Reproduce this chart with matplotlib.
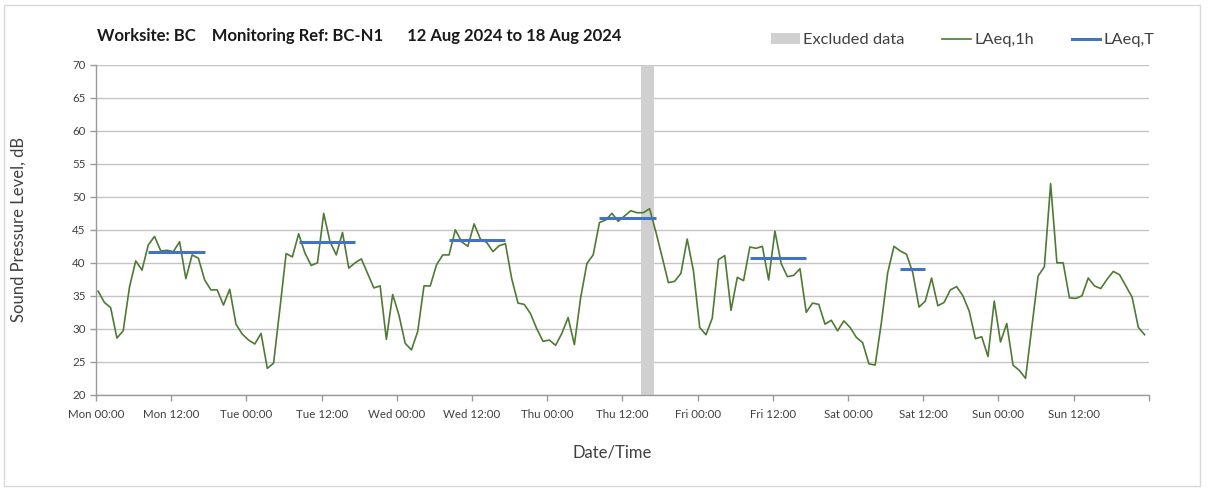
import numpy as np
import pandas as pd
import matplotlib
matplotlib.use('Agg')
import matplotlib.pyplot as plt
import matplotlib.dates as mdates
from matplotlib.patches import Patch, Rectangle
from matplotlib.lines import Line2D

plt.rcParams['font.family'] = ['Lato', 'DejaVu Sans']

# hourly LAeq,1h values, Mon 12 Aug 2024 00:00 -> Sun 18 Aug 2024 23:00
laeq_1h = [
    35.7, 34.0, 33.2, 28.6, 29.7, 36.3, 40.3, 38.9, 42.7, 44.0, 41.8, 41.9,
    41.7, 43.2, 37.6, 41.2, 40.7, 37.4, 35.9, 35.9, 33.6, 36.0, 30.7, 29.2,
    28.3, 27.7, 29.3, 24.0, 24.8, 33.0, 41.4, 40.9, 44.4, 41.5, 39.6, 40.0,
    47.5, 43.2, 41.2, 44.6, 39.2, 40.0, 40.6, 38.4, 36.2, 36.5, 28.4, 35.2,
    32.1, 27.8, 26.8, 29.6, 36.5, 36.5, 39.7, 41.2, 41.2, 45.0, 43.2, 42.5,
    45.9, 43.6, 43.1, 41.7, 42.6, 42.9, 37.6, 33.9, 33.7, 32.3, 30.0, 28.1,
    28.3, 27.5, 29.3, 31.7, 27.6, 34.7, 39.9, 41.2, 46.1, 46.5, 47.5, 46.3,
    47.1, 47.9, 47.6, 47.6, 48.2, 44.7, 40.9, 37.0, 37.2, 38.4, 43.6, 38.8,
    30.2, 29.1, 31.6, 40.5, 41.1, 32.8, 37.8, 37.3, 42.4, 42.2, 42.5, 37.4,
    44.8, 39.9, 37.9, 38.1, 39.1, 32.5, 33.9, 33.7, 30.7, 31.3, 29.7, 31.2,
    30.2, 28.7, 27.9, 24.7, 24.5, 31.0, 38.5, 42.5, 41.8, 41.3, 38.5, 33.3,
    34.2, 37.7, 33.5, 34.0, 35.9, 36.4, 35.0, 32.7, 28.5, 28.8, 25.8, 34.2,
    28.0, 30.8, 24.5, 23.7, 22.5, 30.2, 38.0, 39.4, 52.0, 40.0, 40.0, 34.7,
    34.6, 35.0, 37.7, 36.5, 36.1, 37.5, 38.7, 38.2, 36.5, 34.8, 30.2, 29.1,
]

# LAeq,T over each assessment period
period_days = ['2024-08-12', '2024-08-13', '2024-08-14', '2024-08-15',
               '2024-08-16', '2024-08-17']
period_start_h = [8, 8, 8, 8, 8, 8]
period_end_h = [18, 18, 18, 18, 18, 13]
laeq_T = [41.7, 43.1, 43.4, 46.8, 40.7, 39.0]

excluded_start = '2024-08-15 15:00'
excluded_end = '2024-08-15 17:00'

times = pd.date_range('2024-08-12 00:20', periods=len(laeq_1h), freq='h')
laeq_1h = np.array(laeq_1h)

fig = plt.figure(figsize=(12.08, 4.88), dpi=100)
ax = fig.add_axes([0.0795, 0.191, 0.8715, 0.676])

ax.axvspan(pd.Timestamp(excluded_start), pd.Timestamp(excluded_end),
           color='#D0D0D0', lw=0, zorder=1)

ax.plot(times, laeq_1h, color='#4E7A34', lw=1.2, zorder=3)

for d, h0, h1, lev in zip(period_days, period_start_h, period_end_h, laeq_T):
    day = times.strftime('%Y-%m-%d') == d
    sel = day & (times.hour >= h0) & (times.hour < h1)
    ax.plot(times[sel], np.full(sel.sum(), lev), color='#4472C4', lw=2.2,
            zorder=4, solid_capstyle='butt')

ax.set_ylim(20, 70)
ax.set_yticks(np.arange(20, 71, 5))
ax.set_xlim(pd.Timestamp('2024-08-12'), pd.Timestamp('2024-08-19'))

tick_times = pd.date_range('2024-08-12', '2024-08-19', freq='12h')
ax.set_xticks(tick_times)
ax.set_xticklabels([t.strftime('%a %H:%M') for t in tick_times[:-1]] + [''])
ax.xaxis.set_minor_locator(mdates.DayLocator())

ax.grid(axis='y', color='#C4C4C4', lw=1.0, zorder=0)
ax.grid(axis='x', which='minor', color='#DCDCDC', lw=1.0, zorder=0)
ax.set_axisbelow(True)

for s in ['top', 'right']:
    ax.spines[s].set_visible(False)
for s in ['left', 'bottom']:
    ax.spines[s].set_color('#9A9A9A')
    ax.spines[s].set_linewidth(1.0)

ax.tick_params(axis='both', which='major', labelsize=8.3, colors='#9A9A9A',
               labelcolor='#404040', length=4, width=1.0)
ax.tick_params(axis='x', which='minor', length=0)
ax.tick_params(axis='x', pad=6)

fig.text(0.0155, 0.53, 'Sound Pressure Level, dB', rotation=90,
         ha='center', va='center', fontsize=12, color='#404040')
fig.text(0.507, 0.072, 'Date/Time', ha='center', va='center',
         fontsize=12, color='#404040')

fig.text(0.080, 0.926,
         'Worksite: BC    Monitoring Ref: BC-N1      12 Aug 2024 to 18 Aug 2024',
         ha='left', va='center', fontsize=12, fontweight='bold',
         color='#1A1A1A')

handles = [Patch(facecolor='#D0D0D0', edgecolor='none'),
           Line2D([], [], color='#4E7A34', lw=1.2),
           Line2D([], [], color='#4472C4', lw=2.2)]
fig.legend(handles, ['Excluded data', 'LAeq,1h', 'LAeq,T'], ncol=3,
           loc='center right', bbox_to_anchor=(0.968, 0.918), frameon=False,
           fontsize=11.8, handlelength=1.75, handletextpad=0.2,
           columnspacing=2.3, labelcolor='#404040')

fig.add_artist(Rectangle((0.003, 0.004), 0.990, 0.986, transform=fig.transFigure,
                         fill=False, edgecolor='#D9D9D9', lw=1.0))

fig.savefig('out.png', dpi=100)
